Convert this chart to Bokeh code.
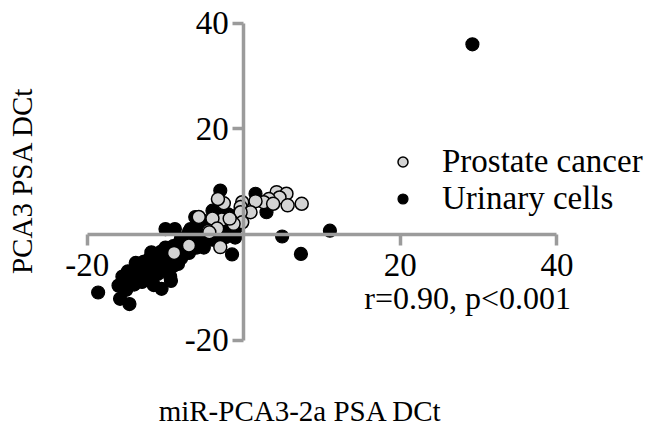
from bokeh.plotting import figure
from bokeh.models import (Range1d, LinearAxis, FixedTicker, Legend, LegendItem, Label,
                          ColumnDataSource)
from bokeh.embed import file_html
from bokeh.resources import INLINE

# ---------------- data ----------------
urinary_x = [-18.6, -15.8, -14.6, -16.0, -15.5,
             -15.0, -15.0, -14.8, -14.0, -14.0, -13.8, -13.5,
             -13.0, -13.0, -12.8, -12.5, -12.0, -12.0, -12.0, -11.8,
             -11.0, -11.0, -11.0, -11.5, -10.0, -10.0, -10.0, -10.6,
             -9.0, -9.0, -9.0, -9.4, -8.0, -8.0, -8.0, -8.4,
             -7.0, -7.0, -7.0, -6.0, -6.0, -6.0, -6.2,
             -5.0, -5.1, -5.0, -5.0, -4.0, -4.0, -4.0,
             -3.0, -3.0, -3.0, -2.0, -2.0, -2.3,
             -1.1, -1.5, -1.0, -0.6,
             -10.5, -9.3, -10.0, -8.8, -8.1, -6.8,
             1.5, 2.9, 4.9, 7.3, 11.0, 29.2]
urinary_y = [-11.0, -12.2, -13.2, -9.7, -8.0,
             -10.5, -8.8, -7.0, -9.5, -7.8, -5.4, -6.6,
             -9.0, -7.2, -5.2, -8.2, -8.5, -6.5, -4.5, -3.4,
             -7.5, -5.8, -3.8, -9.6, -6.5, -4.5, -2.5, -3.3,
             -6.0, -4.2, -2.2, -8.0, -4.5, -2.5, -0.8, -5.6,
             -3.5, -1.5, 0.5, -2.5, -0.5, 1.5, 3.3,
             -1.5, -2.5, 0.8, 2.5, -1.0, 1.5, 4.5,
             0.0, 3.5, 8.3, 1.0, 3.8, -0.5,
             -0.6, -3.8, 1.2, 4.0,
             -10.3, -8.8, 1.0, 1.0, -1.2, 1.0,
             7.7, 4.2, -0.4, -3.7, 0.7, 36.0]

cancer_x = [4.2, 5.45, 4.56, 3.2, 2.55, 3.75, 5.6, 7.4, 1.5, -0.2, -0.4, 0.86,
            -0.4, -0.2, -1.3, -2.55, -3.3, -2.8, -4.0, -4.5, -3.0, -5.75,
            -3.4, -7.0, -8.9, -4.4, -1.8]
cancer_y = [8.0, 7.7, 7.0, 6.7, 6.1, 5.8, 5.5, 5.8, 6.3, 6.1, 5.2, 4.2,
            4.2, 2.3, 2.0, 5.9, 6.7, 2.8, 3.0, 0.7, -2.4, 3.3,
            1.1, -2.1, -3.5, 0.4, 3.0]

ticks = [-20, 20, 40]
tick_labels = {-20: "-20", 20: "20", 40: "40"}
series_names = ["Prostate cancer", "Urinary cells"]
x_title = "miR-PCA3-2a PSA DCt"
y_title = "PCA3 PSA DCt"
stat_text = "r=0.90, p<0.001"

# ---------------- styling ----------------
FONT = "Liberation Serif"
AXIS_GRAY = "#9b9b9b"

p = figure(width=670, height=429, output_backend="svg", toolbar_location=None,
           x_range=Range1d(-31.07, 54.50), y_range=Range1d(-36.95, 44.30),
           x_axis_type=None, y_axis_type=None, min_border=0,
           background_fill_color="white", border_fill_color="white")
p.outline_line_color = None
p.grid.visible = False

xaxis = LinearAxis(fixed_location=0, ticker=FixedTicker(ticks=ticks), bounds=(-20, 40))
yaxis = LinearAxis(fixed_location=0, ticker=FixedTicker(ticks=ticks), bounds=(-20, 40))
for ax in (xaxis, yaxis):
    ax.axis_line_color = AXIS_GRAY
    ax.axis_line_width = 3.5
    ax.major_tick_line_color = AXIS_GRAY
    ax.major_tick_line_width = 3.5
    ax.major_tick_out = 11
    ax.major_tick_in = 0
    ax.minor_tick_line_color = None
    ax.major_label_text_font = FONT
    ax.major_label_text_font_size = "33px"
    ax.major_label_text_color = "black"
    ax.major_label_overrides = tick_labels
xaxis.major_label_standoff = 9
yaxis.major_label_standoff = 4
p.add_layout(xaxis, "below")
p.add_layout(yaxis, "left")

src_u = ColumnDataSource(dict(x=urinary_x, y=urinary_y))
src_c = ColumnDataSource(dict(x=cancer_x, y=cancer_y))
r_u = p.scatter("x", "y", source=src_u, size=13, fill_color="black",
                line_color="black", line_width=1.2)
r_c = p.scatter("x", "y", source=src_c, size=13, fill_color="#d3d3d3",
                line_color="black", line_width=1.5)

legend = Legend(items=[LegendItem(label=series_names[0], renderers=[r_c]),
                       LegendItem(label=series_names[1], renderers=[r_u])],
                location=(390, 212), glyph_width=25, glyph_height=25,
                label_standoff=27, padding=0, margin=0, spacing=0,
                label_text_font=FONT, label_text_font_size="33px",
                label_text_color="black",
                border_line_color=None, background_fill_alpha=0)
p.add_layout(legend)

p.add_layout(Label(x=7.24, y=-33.4, text=x_title, text_font=FONT, text_color="black",
                   text_font_size="29px", text_align="center", text_baseline="middle"))
p.add_layout(Label(x=-28.3, y=10.2, text=y_title, text_font=FONT, angle=90,
                   angle_units="deg", text_font_size="29px", text_align="center",
                   text_baseline="middle", text_color="black"))
p.add_layout(Label(x=28.6, y=-11.95, text=stat_text, text_font=FONT, text_color="black",
                   text_font_size="32px", text_align="center", text_baseline="middle"))

open("out.html", "w").write(file_html(p, INLINE))
